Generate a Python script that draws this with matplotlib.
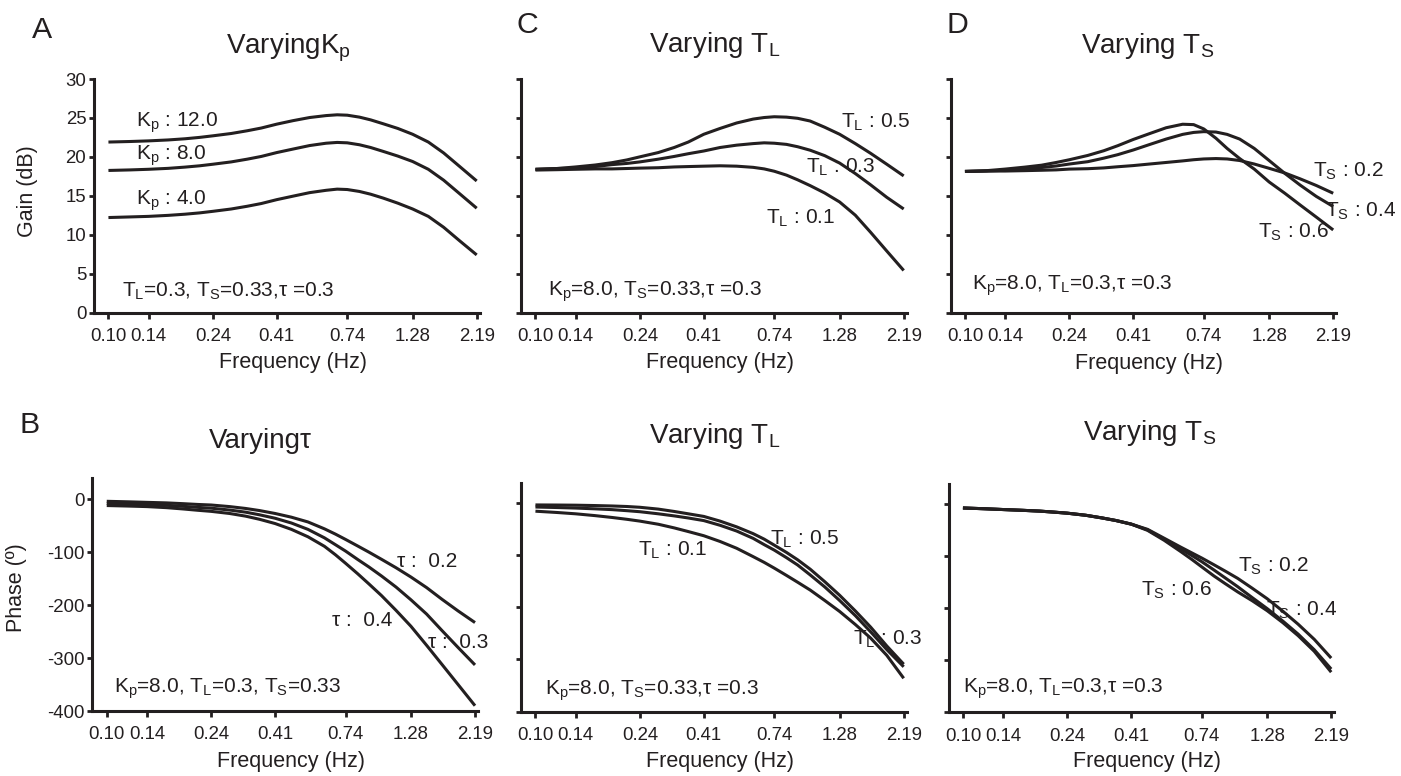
import matplotlib
matplotlib.use("Agg")
import matplotlib.pyplot as plt
from matplotlib.ticker import FixedLocator, FixedFormatter, NullLocator

plt.rcParams['font.family'] = ['Liberation Sans', 'DejaVu Sans']
plt.rcParams['mathtext.fontset'] = 'custom'
plt.rcParams['mathtext.rm'] = 'Liberation Sans'
plt.rcParams['mathtext.it'] = 'Liberation Sans'
plt.rcParams['mathtext.bf'] = 'Liberation Sans:bold'
plt.rcParams['axes.unicode_minus'] = False

INK = '#231f20'
W, H = 1401, 776

# ---- axis ticks -------------------------------------------------------
freq_ticks = [0.10, 0.14, 0.24, 0.41, 0.74, 1.28, 2.19]
freq_tick_labels = ['0.10', '0.14', '0.24', '0.41', '0.74', '1.28', '2.19']
gain_ticks = [0, 5, 10, 15, 20, 25, 30]
gain_tick_labels = ['0', '5', '10', '15', '20', '25', '30']
phase_ticks = [0, -100, -200, -300, -400]
phase_tick_labels = ['0', '-100', '-200', '-300', '-400']

# frequencies (Hz) at which every curve is sampled
freq = [0.10, 0.12, 0.14, 0.165, 0.19, 0.215, 0.24, 0.28, 0.32, 0.36, 0.41, 0.47, 0.54,
        0.62, 0.68, 0.74, 0.82, 0.90, 1.0, 1.13, 1.28, 1.46, 1.66, 1.9, 2.19]

# ---- A: gain (dB), varying Kp -----------------------------------------
gain_kp12 = [21.9, 21.97, 22.05, 22.17, 22.32, 22.5, 22.7, 23.0, 23.35, 23.7, 24.2, 24.65, 25.05,
             25.3, 25.4, 25.35, 25.1, 24.75, 24.25, 23.65, 22.9, 21.9, 20.5, 18.75, 16.9]
gain_kp8 = [18.25, 18.32, 18.4, 18.52, 18.68, 18.85, 19.05, 19.35, 19.7, 20.05, 20.55, 21.0, 21.45,
            21.75, 21.85, 21.8, 21.55, 21.2, 20.7, 20.1, 19.4, 18.4, 17.0, 15.25, 13.4]
gain_kp4 = [12.2, 12.28, 12.35, 12.48, 12.63, 12.8, 13.0, 13.3, 13.65, 14.0, 14.5, 14.95, 15.4,
            15.7, 15.85, 15.8, 15.55, 15.2, 14.7, 14.05, 13.3, 12.35, 10.95, 9.2, 7.4]

# ---- C: gain (dB), varying TL -----------------------------------------
gain_tl05 = [18.4, 18.5, 18.7, 18.95, 19.25, 19.6, 20.0, 20.55, 21.2, 21.9, 22.9, 23.65, 24.35,
             24.85, 25.05, 25.15, 25.1, 24.95, 24.6, 23.8, 22.9, 21.7, 20.45, 19.05, 17.55]
gain_tl03 = [18.4, 18.5, 18.55, 18.75, 19.0, 19.15, 19.35, 19.7, 20.05, 20.4, 20.75, 21.2, 21.5,
             21.7, 21.8, 21.75, 21.6, 21.3, 20.85, 20.15, 19.2, 17.85, 16.4, 14.8, 13.3]
gain_tl01 = [18.3, 18.35, 18.4, 18.45, 18.45, 18.5, 18.55, 18.6, 18.7, 18.75, 18.8, 18.85, 18.8,
             18.65, 18.45, 18.15, 17.65, 17.05, 16.3, 15.35, 14.2, 12.5, 10.3, 7.9, 5.4]

# ---- D: gain (dB), varying TS -----------------------------------------
gain_ts06 = [18.15, 18.25, 18.45, 18.7, 18.95, 19.3, 19.65, 20.2, 20.8, 21.45, 22.25, 23.0, 23.75,
             24.2, 24.15, 23.6, 22.4, 21.1, 19.8, 18.45, 16.8, 15.35, 13.85, 12.3, 10.65]
gain_ts04 = [18.15, 18.2, 18.3, 18.5, 18.65, 18.85, 19.1, 19.4, 19.85, 20.3, 20.9, 21.6, 22.3,
             22.9, 23.15, 23.25, 23.2, 22.9, 22.3, 21.1, 19.55, 17.9, 16.4, 14.95, 13.65]
gain_ts02 = [18.15, 18.2, 18.2, 18.25, 18.3, 18.35, 18.45, 18.5, 18.6, 18.75, 18.9, 19.1, 19.3,
             19.5, 19.65, 19.75, 19.8, 19.75, 19.55, 19.1, 18.55, 17.95, 17.2, 16.35, 15.35]

# ---- B: phase (deg), varying tau --------------------------------------
phase_tau02 = [-4, -5, -6, -7, -8.5, -10, -11, -14, -17.5, -21.5, -27, -34, -43,
               -56, -66, -76, -88.5, -100, -113.5, -129.5, -147, -167, -189, -211, -233]
phase_tau03 = [-8, -9, -10, -11.5, -13.5, -15.5, -17, -20.5, -24.5, -29.5, -36, -45, -57,
               -73, -86, -98, -114, -128, -145, -166, -190, -217, -248, -280, -313]
phase_tau04 = [-12, -13, -14, -16, -18.5, -21, -23, -27, -32, -38, -46, -57, -71,
               -89, -105, -121, -141, -160, -182, -210, -240, -276, -312, -350, -390]

# ---- phase (deg), varying TL ------------------------------------------
phase_tl05 = [-4, -4.2, -4.5, -5.2, -6, -7, -8.5, -12, -16.5, -21, -26, -35, -46,
              -59, -69.5, -81, -95, -109, -127, -151, -177, -207, -238, -274, -309]
phase_tl03 = [-8, -9, -10, -11.5, -13, -15, -17, -21, -25, -29, -34, -43, -54,
              -68, -80, -90.5, -105, -119, -138, -161, -187, -216, -247, -281, -314]
phase_tl01 = [-16, -18.5, -21, -24.5, -28, -31.5, -35, -41, -48, -55, -63, -74, -87,
              -103, -114, -125, -139, -152, -167, -187, -208, -233, -259, -292, -336]

# ---- phase (deg), varying TS ------------------------------------------
phase_ts02 = [-8, -9.5, -11, -12.5, -14, -16, -18, -22, -27, -32, -39, -49, -66,
              -83, -94, -104, -117, -129, -143, -162, -182, -206, -231, -260, -296]
phase_ts04 = [-8, -9.5, -11, -12.5, -14, -16, -18, -22, -27, -32, -39, -50, -68,
              -86.5, -99, -111, -127, -142, -159, -180, -201, -225, -250, -280, -317]
phase_ts06 = [-8, -9.5, -11, -12.5, -14, -16, -18, -22, -27, -32, -39, -51, -70,
              -91.5, -106.5, -121, -138.5, -153, -169, -186, -205, -228, -253, -283, -323]

fig = plt.figure(figsize=(W / 100, H / 100), dpi=100)


def px_axes(left, top, right, bottom):
    return fig.add_axes([left / W, 1 - bottom / H, (right - left) / W, (bottom - top) / H])


def px_text(x, y, s, **kw):
    fig.text(x / W, 1 - y / H, s, color=INK, **kw)


def style(ax, ylim, yticks, ylabels, ylabel=None, ylabel_xy=None):
    ax.set_xscale('log')
    ax.set_xlim(0.0886, 2.242)
    ax.set_ylim(*ylim)
    ax.xaxis.set_major_locator(FixedLocator(freq_ticks))
    ax.xaxis.set_major_formatter(FixedFormatter(freq_tick_labels))
    ax.xaxis.set_minor_locator(NullLocator())
    ax.yaxis.set_major_locator(FixedLocator(yticks))
    ax.yaxis.set_minor_locator(NullLocator())
    if ylabels is None:
        ax.yaxis.set_major_formatter(FixedFormatter([''] * len(yticks)))
    else:
        ax.yaxis.set_major_formatter(FixedFormatter(ylabels))
    for side in ('top', 'right'):
        ax.spines[side].set_visible(False)
    for side in ('left', 'bottom'):
        ax.spines[side].set_linewidth(2.2)
        ax.spines[side].set_color(INK)
        ax.spines[side].set_capstyle('projecting')
    ax.tick_params(axis='x', direction='out', length=4.5, width=2.0, color=INK,
                   labelsize=13.4, labelcolor=INK, pad=6.5)
    ax.tick_params(axis='y', direction='out', length=3.5, width=2.0, color=INK,
                   labelsize=13.4, labelcolor=INK, pad=2)
    ax.patch.set_alpha(0)
    ax.set_xlabel('Frequency (Hz)', fontsize=15.5, color=INK)
    ax.xaxis.set_label_coords(0.515, -0.17)
    if ylabel:
        ax.set_ylabel(ylabel, fontsize=15.5, color=INK)
        ax.yaxis.set_label_coords(*ylabel_xy)


LW = 2.2
lab = dict(fontsize=15, color=INK, ha='left', va='baseline')
note = dict(fontsize=15, color=INK, ha='left', va='baseline')


def curves(ax, series):
    for s in series:
        ax.plot(freq, s, color=INK, lw=LW, solid_capstyle='butt', solid_joinstyle='round')


# A
axA = px_axes(94, 79, 479.5, 312.5)
style(axA, (0, 30), gain_ticks, gain_tick_labels, 'Gain (dB)', (-0.145, 0.52))
curves(axA, (gain_kp12, gain_kp8, gain_kp4))
axA.text(0.126, 23.85, r'$\mathrm{K_p}$ : 12.0', **lab)
axA.text(0.126, 19.6, r'$\mathrm{K_p}$ : 8.0', **lab)
axA.text(0.126, 13.9, r'$\mathrm{K_p}$ : 4.0', **lab)
axA.text(0.1125, 2.0, r'$\mathrm{T_L}$=0.3, $\mathrm{T_S}$=0.33,τ =0.3', **note)

# C
axC = px_axes(521, 79, 906.5, 312.5)
style(axC, (0, 30), gain_ticks, None)
curves(axC, (gain_tl05, gain_tl03, gain_tl01))
axC.text(1.30, 23.7, r'$\mathrm{T_L}$ : 0.5', **lab)
axC.text(0.969, 17.9, r'$\mathrm{T_L}$ : 0.3', **lab)
axC.text(0.693, 11.45, r'$\mathrm{T_L}$ : 0.1', **lab)
axC.text(0.111, 2.2, r'$\mathrm{K_p}$=8.0, $\mathrm{T_S}$=0.33,τ =0.3', **note)

# D
axD = px_axes(950.5, 79, 1336, 313)
style(axD, (0, 30), gain_ticks, None)
curves(axD, (gain_ts06, gain_ts04, gain_ts02))
axD.text(1.85, 17.5, r'$\mathrm{T_S}$ : 0.2', **lab)
axD.text(2.04, 12.4, r'$\mathrm{T_S}$ : 0.4', **lab)
axD.text(1.17, 9.6, r'$\mathrm{T_S}$ : 0.6', **lab)
axD.text(0.106, 3.0, r'$\mathrm{K_p}$=8.0, $\mathrm{T_L}$=0.3,τ =0.3', **note)

# B
axB = px_axes(92.3, 478, 477.8, 711)
style(axB, (-400, 40), phase_ticks, phase_tick_labels, 'Phase (º)', (-0.169, 0.528))
curves(axB, (phase_tau02, phase_tau03, phase_tau04))
axB.text(1.135, -129, 'τ :  0.2', **lab)
axB.text(0.659, -240, 'τ :  0.4', **lab)
axB.text(1.478, -281, 'τ :  0.3', **lab)
axB.text(0.106, -366, r'$\mathrm{K_p}$=8.0, $\mathrm{T_L}$=0.3, $\mathrm{T_S}$=0.33', **note)

# phase, TL
axE = px_axes(521, 483, 906.5, 711.7)
style(axE, (-400, 38), phase_ticks, None)
curves(axE, (phase_tl05, phase_tl03, phase_tl01))
axE.text(0.713, -81, r'$\mathrm{T_L}$ : 0.5', **lab)
axE.text(0.236, -101, r'$\mathrm{T_L}$ : 0.1', **lab)
axE.text(1.433, -272, r'$\mathrm{T_L}$ : 0.3', **lab)
axE.text(0.108, -368, r'$\mathrm{K_p}$=8.0, $\mathrm{T_S}$=0.33,τ =0.3', **note)

# phase, TS
axF = px_axes(948.5, 484, 1334, 712.3)
style(axF, (-400, 38), phase_ticks, None)
curves(axF, (phase_ts02, phase_ts04, phase_ts06))
axF.text(1.0, -131, r'$\mathrm{T_S}$ : 0.2', **lab)
axF.text(0.446, -177, r'$\mathrm{T_S}$ : 0.6', **lab)
axF.text(1.27, -214, r'$\mathrm{T_S}$ : 0.4', **lab)
axF.text(0.10, -363, r'$\mathrm{K_p}$=8.0, $\mathrm{T_L}$=0.3,τ =0.3', **note)

# titles and panel letters
title_kw = dict(fontsize=20, ha='center', va='baseline')
px_text(288, 53.3, r'Varying$\mathrm{K_p}$', **title_kw)
px_text(715, 51.7, r'Varying $\mathrm{T_L}$', **title_kw)
px_text(1148, 53.3, r'Varying $\mathrm{T_S}$', **title_kw)
px_text(260, 448.3, 'Varyingτ', **title_kw)
px_text(715, 443.3, r'Varying $\mathrm{T_L}$', **title_kw)
px_text(1150, 440, r'Varying $\mathrm{T_S}$', **title_kw)

letter_kw = dict(fontsize=21.8, ha='left', va='baseline')
px_text(31.7, 38.3, 'A', **letter_kw)
px_text(516.7, 33.3, 'C', **letter_kw)
px_text(946.7, 33.3, 'D', **letter_kw)
px_text(20, 433.3, 'B', **letter_kw)

fig.savefig('out.png', dpi=100, facecolor='white')
